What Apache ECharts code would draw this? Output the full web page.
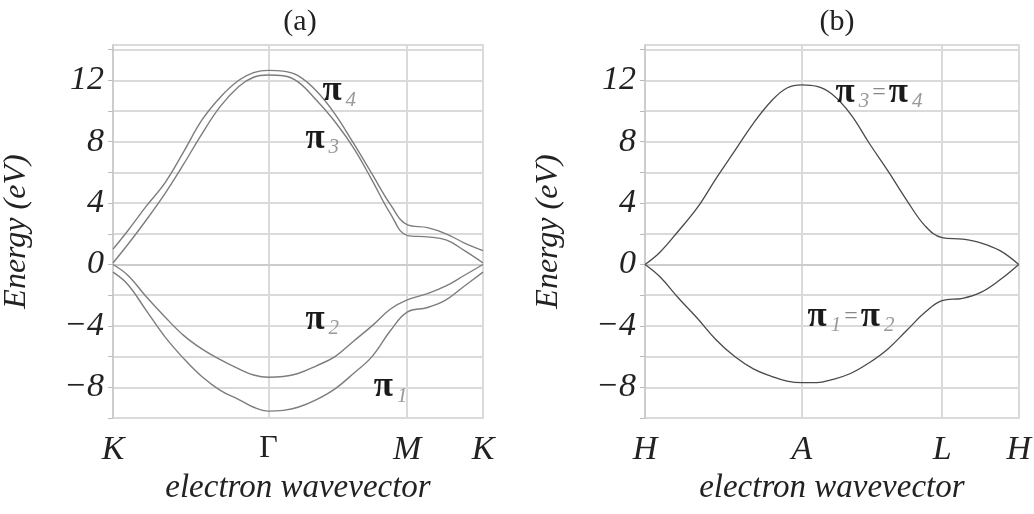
<!DOCTYPE html>
<html>
<head>
<meta charset="utf-8">
<script src="https://cdn.jsdelivr.net/npm/echarts@6/dist/echarts.min.js"></script>
<style>
  html, body { margin: 0; padding: 0; background: #fff; }
  #chart { width: 1034px; height: 514px; }
</style>
</head>
<body>
<div id="chart"></div>
<script>
// position along the k-path (0..1), shared by both panels
const kPath = [0, 0.04, 0.09, 0.14, 0.19, 0.24, 0.29, 0.34, 0.38, 0.42, 0.46,
  0.5, 0.55, 0.6, 0.65, 0.7, 0.75, 0.795, 0.85, 0.9, 0.95, 1];
const kNodes = [0, 0.42, 0.795, 1];
const nodeLabelsA = ["K", "Γ", "M", "K"];
const nodeLabelsB = ["H", "A", "L", "H"];
const energyTicks = [12, 8, 4, 0, -4, -8];

// (a) bands along K-Γ-M-K
const pi4 = [1.0, 2.2, 3.8, 5.3, 7.3, 9.4, 10.9, 12.0, 12.5, 12.65, 12.6,
  12.3, 11.3, 9.8, 7.9, 5.9, 3.9, 2.6, 2.4, 2.0, 1.4, 0.9];
const pi3 = [0.1, 1.3, 2.9, 4.6, 6.5, 8.5, 10.3, 11.6, 12.2, 12.35, 12.3,
  11.9, 10.7, 9.3, 7.6, 5.5, 3.3, 1.9, 1.8, 1.6, 0.9, 0.1];
const pi2 = [0, -0.7, -2.1, -3.4, -4.6, -5.5, -6.2, -6.8, -7.2, -7.35, -7.3,
  -7.1, -6.6, -6.0, -5.0, -4.0, -2.9, -2.3, -1.9, -1.4, -0.7, 0];
const pi1 = [-0.5, -1.3, -3.0, -4.7, -6.1, -7.3, -8.2, -8.8, -9.3, -9.55, -9.5,
  -9.3, -8.8, -8.1, -7.1, -6.0, -4.3, -3.1, -2.8, -2.3, -1.4, -0.5];

// (b) bands along H-A-L-H (degenerate pairs)
const pi34 = [0, 0.8, 2.2, 3.7, 5.6, 7.4, 9.2, 10.7, 11.5, 11.7, 11.6,
  11.1, 9.8, 7.9, 6.1, 4.2, 2.5, 1.75, 1.65, 1.4, 0.9, 0];
const pi12 = [0, -0.8, -2.2, -3.5, -4.9, -6.0, -6.8, -7.3, -7.6, -7.7, -7.7,
  -7.5, -7.1, -6.4, -5.5, -4.3, -3.1, -2.35, -2.2, -1.8, -1.0, 0];

const serif = "Liberation Serif";
const gridColor = "#dadada";

function pts(ys) {
  return kPath.map((k, i) => [k, ys[i]]);
}

function xAxis(gridIndex, labels) {
  return {
    type: "value", gridIndex, min: 0, max: 1,
    name: "electron wavevector", nameLocation: "middle", nameGap: 54,
    nameTextStyle: { fontFamily: serif, fontStyle: "italic", fontSize: 33, color: "#222" },
    axisLine: { lineStyle: { color: "#c8c8c8", width: 1.5 } },
    axisTick: { customValues: kNodes, length: 0 },
    splitLine: { show: true, lineStyle: { color: gridColor, width: 2 } },
    axisLabel: {
      customValues: kNodes, margin: 15,
      fontFamily: serif, fontStyle: "italic", fontSize: 34, color: "#222",
      formatter: (v) => {
        const t = labels[kNodes.indexOf(v)] || "";
        return t === "Γ" ? "{g|Γ}" : t;
      },
      rich: { g: { fontFamily: serif, fontStyle: "normal", fontSize: 32, color: "#222" } },
    },
  };
}

function yAxis(gridIndex) {
  return {
    type: "value", gridIndex, min: -10, max: 14.3, interval: 2,
    name: "Energy (eV)", nameLocation: "middle", nameGap: 80,
    nameTextStyle: { fontFamily: serif, fontStyle: "italic", fontSize: 32, color: "#222" },
    axisLine: { show: true, lineStyle: { color: "#c8c8c8", width: 1.5 } },
    axisTick: { show: true, length: 5, lineStyle: { color: "#bbb" } },
    splitLine: { show: true, lineStyle: { color: gridColor, width: 2 } },
    axisLabel: {
      margin: 9, showMaxLabel: false,
      fontFamily: serif, fontStyle: "italic", fontSize: 34, color: "#222",
      formatter: (v) => (energyTicks.includes(v) ? (v < 0 ? "−" + -v : String(v)) : ""),
    },
  };
}

const piRich = {
  p: { fontFamily: serif, fontWeight: "bold", fontSize: 35, color: "#1a1a1a" },
  s: { fontFamily: serif, fontStyle: "italic", fontSize: 21, color: "#999", padding: [18, 0, 0, 4] },
  e: { fontFamily: serif, fontSize: 24, color: "#888", padding: [0, 3, 0, 3] },
};

function tag(x, y, text) {
  return {
    coord: [x, y], symbol: "circle", symbolSize: 0,
    label: { show: true, position: "right", distance: 0, formatter: text, rich: piRich },
  };
}

function band(name, ys, xi, color, width, tags) {
  return {
    type: "line", name, xAxisIndex: xi, yAxisIndex: xi,
    data: pts(ys), showSymbol: false, smooth: 0.4, silent: true,
    lineStyle: { color, width },
    markPoint: tags ? { silent: true, data: tags } : undefined,
  };
}

const chart = echarts.init(document.getElementById("chart"));
chart.setOption({
  animation: false,
  backgroundColor: "#fff",
  title: [
    { text: "(a)", left: 295, top: 2, textAlign: "center",
      textStyle: { fontFamily: serif, fontWeight: "normal", fontSize: 30, color: "#222" } },
    { text: "(b)", left: 832, top: 2, textAlign: "center",
      textStyle: { fontFamily: serif, fontWeight: "normal", fontSize: 30, color: "#222" } },
  ],
  grid: [
    { left: 107, top: 45, width: 376, height: 373, show: true, borderColor: "#c8c8c8", borderWidth: 1.5 },
    { left: 645, top: 45, width: 375, height: 373, show: true, borderColor: "#c8c8c8", borderWidth: 1.5 },
  ],
  xAxis: [xAxis(0, nodeLabelsA), xAxis(1, nodeLabelsB)],
  yAxis: [yAxis(0), yAxis(1)],
  series: [
    band("π4", pi4, 0, "#7d7d7d", 1.4, [tag(0.566, 11.3, "{p|π}{s|4}")]),
    band("π3", pi3, 0, "#7d7d7d", 1.4, [tag(0.52, 8.2, "{p|π}{s|3}")]),
    band("π2", pi2, 0, "#7d7d7d", 1.4, [tag(0.52, -3.6, "{p|π}{s|2}")]),
    band("π1", pi1, 0, "#7d7d7d", 1.4, [tag(0.705, -8.0, "{p|π}{s|1}")]),
    band("π3=π4", pi34, 1, "#4a4a4a", 1.3, [tag(0.51, 11.2, "{p|π}{s|3}{e|=}{p|π}{s|4}")]),
    band("π1=π2", pi12, 1, "#4a4a4a", 1.3, [tag(0.435, -3.4, "{p|π}{s|1}{e|=}{p|π}{s|2}")]),
  ],
});
</script>
</body>
</html>
